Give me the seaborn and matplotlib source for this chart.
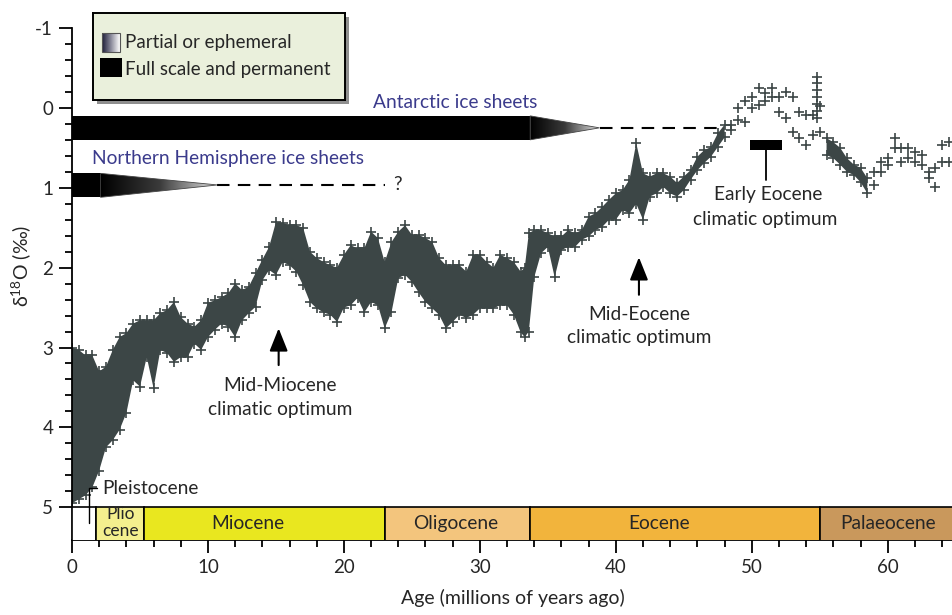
import matplotlib
matplotlib.use("Agg")
import numpy as np
import pandas as pd
import matplotlib.pyplot as plt
import seaborn as sns
from matplotlib.patches import Rectangle, Polygon
from matplotlib.colors import LinearSegmentedColormap
from matplotlib.ticker import FixedLocator, MultipleLocator

# ---------------------------------------------------------------------------
# Cenozoic deep-sea benthic d18O record (age in Ma), given as the light
# (upper) and heavy (lower) edge of the data cloud at each age.
# ---------------------------------------------------------------------------
age = [0, 0.5, 1, 1.5, 2, 2.5, 3, 3.5, 4, 4.5, 5, 5.5, 6, 6.5, 7, 7.5, 8, 8.5,
       9, 9.5, 10, 10.5, 11, 11.5, 12, 12.5, 13, 13.5, 14, 14.5,
       15, 15.5, 16, 16.5, 17, 17.5, 18, 18.5, 19, 19.5, 20, 20.5, 21, 21.5,
       22, 22.5, 23, 23.5, 24, 24.5, 25, 25.5, 26, 26.5, 27, 27.5, 28, 28.5,
       29, 29.5, 30, 30.5, 31, 31.5, 32, 32.5, 33, 33.3, 33.6,
       34, 34.5, 35, 35.5, 36, 36.5, 37, 37.5, 38, 38.5, 39, 39.5, 40, 40.5,
       41, 41.5, 42, 42.5, 43, 43.5, 44, 44.5, 45, 45.5, 46, 46.5, 47, 47.5,
       48, 48.5, 49, 49.5, 50, 50.5, 51, 51.5, 52, 52.5, 53, 53.5, 54, 54.5,
       55, 55.5, 56, 56.5, 57, 57.5, 58, 58.5, 59, 59.5, 60, 60.5, 61, 61.5,
       62, 62.5, 63, 63.5, 64, 64.5]

d18o_light = [3.0, 3.03, 3.1, 3.1, 3.3, 3.24, 3.03, 2.87, 2.82, 2.7, 2.66, 2.66,
              2.66, 2.57, 2.53, 2.43, 2.62, 2.7, 2.74, 2.66, 2.44, 2.41, 2.37, 2.32,
              2.2, 2.28, 2.24, 2.07, 1.9, 1.74,
              1.43, 1.44, 1.47, 1.47, 1.5, 1.8, 1.88, 1.93, 1.97, 2.0, 1.84, 1.72,
              1.76, 1.76, 1.55, 1.63, 1.93, 1.68, 1.55, 1.47, 1.59, 1.59, 1.63, 1.68,
              1.88, 1.97, 1.97, 1.97, 2.05, 1.84, 1.84, 1.93, 2.0, 1.84, 1.88, 1.93,
              2.05, 2.0, 1.57,
              1.53, 1.53, 1.57, 1.61, 1.61, 1.53, 1.57, 1.53, 1.36, 1.32, 1.24, 1.15,
              1.07, 1.03, 0.9, 0.44, 0.82, 0.86, 0.82, 0.82, 0.86, 0.94, 0.86, 0.78,
              0.61, 0.53, 0.49, 0.32,
              0.21, 0.21, 0.0, -0.08, -0.13, -0.25, -0.19, -0.25, -0.13, -0.2, -0.13,
              0.05, 0.09, 0.09, -0.02, 0.38, 0.43, 0.5, 0.63, 0.71, 0.75, 0.88, 0.8,
              0.68, 0.63, 0.38, 0.5, 0.5, 0.55, 0.59, 0.8, 0.75, 0.46, 0.43]

d18o_heavy = [4.95, 4.9, 4.85, 4.75, 4.54, 4.25, 4.16, 4.03, 3.82, 3.41, 3.49, 3.12,
              3.51, 3.03, 3.07, 3.18, 3.12, 3.12, 2.95, 3.03, 2.87, 2.78, 2.7, 2.74,
              2.87, 2.66, 2.57, 2.49, 2.16, 2.03,
              2.09, 1.93, 1.97, 2.05, 2.22, 2.43, 2.51, 2.56, 2.59, 2.68, 2.5, 2.47,
              2.38, 2.56, 2.43, 2.47, 2.76, 2.56, 2.13, 2.09, 2.18, 2.31, 2.43, 2.51,
              2.59, 2.76, 2.68, 2.59, 2.63, 2.59, 2.51, 2.51, 2.51, 2.47, 2.47, 2.59,
              2.81, 2.87, 2.8,
              2.12, 1.82, 1.74, 2.12, 1.78, 1.74, 1.74, 1.65, 1.61, 1.53, 1.49, 1.4,
              1.4, 1.28, 1.32, 1.2, 1.4, 1.11, 1.07, 0.99, 1.07, 1.11, 1.03, 0.9,
              0.78, 0.69, 0.61, 0.49,
              0.37, 0.28, 0.15, 0.18, 0.0, -0.04, -0.08, -0.13, 0.05, 0.13, 0.3,
              0.38, 0.46, 0.34, 0.3, 0.59, 0.63, 0.71, 0.8, 0.84, 0.93, 1.07, 0.96,
              0.8, 0.71, 0.5, 0.68, 0.63, 0.68, 0.71, 0.88, 0.99, 0.68, 0.68]

# Column of samples at the Palaeocene-Eocene boundary excursion
spike_age = [54.8, 54.8, 54.8, 54.8, 54.8, 54.8, 54.8]
spike_d18o = [-0.39, -0.31, -0.22, -0.14, -0.05, 0.04, 0.13]

# Geological epochs (Ma)
epoch_names = ["", "", "Miocene", "Oligocene", "Eocene", "Palaeocene"]
epoch_start = [0.0, 1.8, 5.3, 23.0, 33.7, 55.0]
epoch_end = [1.8, 5.3, 23.0, 33.7, 55.0, 66.0]
epoch_label_x = [None, None, 12.9, 28.2, 43.2, 60.0]
epoch_colors = ["#ffffff", "#f4ef8e", "#e9e71f", "#f3c57d", "#f2b43c", "#c9985c"]

# Ice-sheet history: full-scale span, ephemeral taper end, dashed extent
ant_full = (0.0, 33.7)
ant_taper_end = 38.8
ant_dash_end = 48.0
ant_band = (0.10, 0.40)
ant_tip = 0.25

nh_full = (0.0, 2.1)
nh_taper_end = 10.7
nh_dash_end = 23.0
nh_band = (0.82, 1.12)
nh_tip = 0.965

eeco_span = (49.9, 52.2)

# ---------------------------------------------------------------------------
sns.set_style("ticks")
plt.rcParams["font.family"] = ["Lato", "DejaVu Sans"]
plt.rcParams["mathtext.fontset"] = "custom"
plt.rcParams["mathtext.rm"] = "Lato"

W, H = 953, 615
fig = plt.figure(figsize=(W / 100, H / 100), dpi=100)
ax = fig.add_axes([72 / W, 75 / H, 881 / W, 512 / H])

data_color = "#3c4646"
text_blue = "#3b3b8c"
FS = 13.8

# denser stretches of the record as a filled cloud
a = np.array(age)
lo = np.array(d18o_light)
hi = np.array(d18o_heavy)
dense = (a <= 48.0) | ((a >= 55.5) & (a <= 58.5))
ax.fill_between(a, lo, hi, where=dense, interpolate=False,
                color=data_color, lw=0, zorder=2)

pts = pd.DataFrame({
    "age": list(age) + list(age) + spike_age,
    "d18o": list(d18o_light) + list(d18o_heavy) + spike_d18o,
})
sns.scatterplot(data=pts, x="age", y="d18o", marker="+", s=48,
                color=data_color, linewidth=1.2, ax=ax, zorder=2, legend=False)

# epoch bar along the bottom
for name, x0, x1, lx, c in zip(epoch_names, epoch_start, epoch_end,
                               epoch_label_x, epoch_colors):
    ax.add_patch(Rectangle((x0, 5.0), x1 - x0, 0.5, facecolor=c,
                           edgecolor="black", lw=1.2, zorder=3))
    if name:
        ax.text(lx, 5.2, name, ha="center", va="center", fontsize=FS, zorder=4)
ax.text(3.55, 5.09, "Plio", ha="center", va="center", fontsize=12.5, zorder=4)
ax.text(3.55, 5.30, "cene", ha="center", va="center", fontsize=12.5, zorder=4)

# Pleistocene bracket
ax.plot([1.25, 1.25, 1.85], [5.2, 4.76, 4.76], color="black", lw=1.0, zorder=4)
ax.text(2.2, 4.76, "Pleistocene", ha="left", va="center", fontsize=FS, zorder=4)

# ice-sheet bars
taper_cmap = LinearSegmentedColormap.from_list("taper", ["#000000", "#3a3a3a", "#e4e4e4"])


def ice_sheet(x_full, x_taper, x_dash, band, tip):
    ax.add_patch(Rectangle((x_full[0], band[0]), x_full[1] - x_full[0],
                           band[1] - band[0], facecolor="black", lw=0, zorder=3))
    tri = Polygon([[x_full[1], band[0]], [x_full[1], band[1]], [x_taper, tip]],
                  closed=True, facecolor="none", edgecolor="#444444", lw=0.6,
                  zorder=4)
    ax.add_patch(tri)
    grad = np.linspace(0, 1, 256).reshape(1, -1)
    im = ax.imshow(grad, extent=[x_full[1], x_taper, band[1], band[0]],
                   cmap=taper_cmap, aspect="auto", zorder=3)
    im.set_clip_path(tri)
    ax.plot([x_taper, x_dash], [tip, tip], color="black", lw=1.5,
            dashes=(6, 4), zorder=3)


ice_sheet(ant_full, ant_taper_end, ant_dash_end, ant_band, ant_tip)
ice_sheet(nh_full, nh_taper_end, nh_dash_end, nh_band, nh_tip)

ax.text(28.2, -0.07, "Antarctic ice sheets", color=text_blue, ha="center",
        va="center", fontsize=FS)
ax.text(1.5, 0.64, "Northern Hemisphere ice sheets", color=text_blue,
        ha="left", va="center", fontsize=FS)
ax.text(23.6, 0.965, "?", ha="left", va="center", fontsize=FS)

# climatic optima
ax.add_patch(Rectangle((eeco_span[0], 0.40), eeco_span[1] - eeco_span[0], 0.13,
                       facecolor="black", lw=0, zorder=3))
ax.plot([51.05, 51.05], [0.53, 0.90], color="black", lw=1.3, zorder=3)
ax.text(51.2, 1.09, "Early Eocene", ha="center", va="center", fontsize=FS)
ax.text(51.0, 1.40, "climatic optimum", ha="center", va="center", fontsize=FS)

arrow = dict(arrowstyle="-|>,head_length=0.7,head_width=0.28", color="black",
             lw=1.5, shrinkA=0, shrinkB=0, mutation_scale=20)
ax.annotate("", xy=(15.2, 2.76), xytext=(15.2, 3.22), arrowprops=arrow)
ax.text(15.3, 3.47, "Mid-Miocene", ha="center", va="center", fontsize=FS)
ax.text(15.3, 3.77, "climatic optimum", ha="center", va="center", fontsize=FS)

ax.annotate("", xy=(41.7, 1.87), xytext=(41.7, 2.34), arrowprops=arrow)
ax.text(41.7, 2.59, "Mid-Eocene", ha="center", va="center", fontsize=FS)
ax.text(41.7, 2.87, "climatic optimum", ha="center", va="center", fontsize=FS)

# axes, ticks and labels
ax.set_xlim(0, 64.8)
ax.set_ylim(5.41, -1.0)
sns.despine(ax=ax)
for side in ("left", "bottom"):
    ax.spines[side].set_linewidth(1.3)
    ax.spines[side].set_color("black")

ax.xaxis.set_major_locator(FixedLocator([0, 10, 20, 30, 40, 50, 60]))
ax.xaxis.set_minor_locator(MultipleLocator(2))
ax.yaxis.set_major_locator(FixedLocator([-1, 0, 1, 2, 3, 4, 5]))
ax.yaxis.set_minor_locator(FixedLocator(np.arange(-0.8, 5.0, 0.2)))
ax.tick_params(axis="both", which="major", direction="out", length=9.5,
               width=1.3, labelsize=13.5, color="black", pad=4)
ax.tick_params(axis="both", which="minor", direction="out", length=5,
               width=1.3, color="black")
ax.set_xticklabels(["0", "10", "20", "30", "40", "50", "60"])
ax.set_yticklabels(["-1", "0", "1", "2", "3", "4", "5"])

ax.set_xlabel("Age (millions of years ago)", fontsize=14)
ax.xaxis.set_label_coords(0.5, -0.095)
ax.set_ylabel(r"δ$^{\mathregular{18}}$O (‰)", fontsize=14)
ax.yaxis.set_label_coords(-0.057, 0.535)
ax.yaxis.label.set_verticalalignment("center")

# legend box with drop shadow
fig.patches.append(Rectangle((97 / W, 1 - 104 / H), 252 / W, 87 / H,
                             transform=fig.transFigure, facecolor="#6a6a6a",
                             alpha=0.75, lw=0, zorder=5))
lax = fig.add_axes([93 / W, 1 - 100 / H, 252 / W, 87 / H], zorder=10)
lax.set_facecolor("#eaf0dc")
for s in lax.spines.values():
    s.set_linewidth(1.4)
    s.set_color("black")
lax.set_xticks([])
lax.set_yticks([])
legend_cmap = LinearSegmentedColormap.from_list("leg", ["#1c1c38", "#8a8a9a", "#ffffff"])
lax.imshow(np.linspace(0, 1, 128).reshape(1, -1), extent=[9, 27, 39, 20],
           cmap=legend_cmap, aspect="auto")
lax.add_patch(Rectangle((9, 20), 18, 19, fill=False, edgecolor="#555555", lw=0.8))
lax.add_patch(Rectangle((7, 45), 22, 19, facecolor="black", lw=0))
lax.set_xlim(0, 252)
lax.set_ylim(87, 0)
lax.text(32, 29.5, "Partial or ephemeral", va="center", fontsize=13.5)
lax.text(32, 56, "Full scale and permanent", va="center", fontsize=13.5)

fig.savefig("out.png", dpi=100)
